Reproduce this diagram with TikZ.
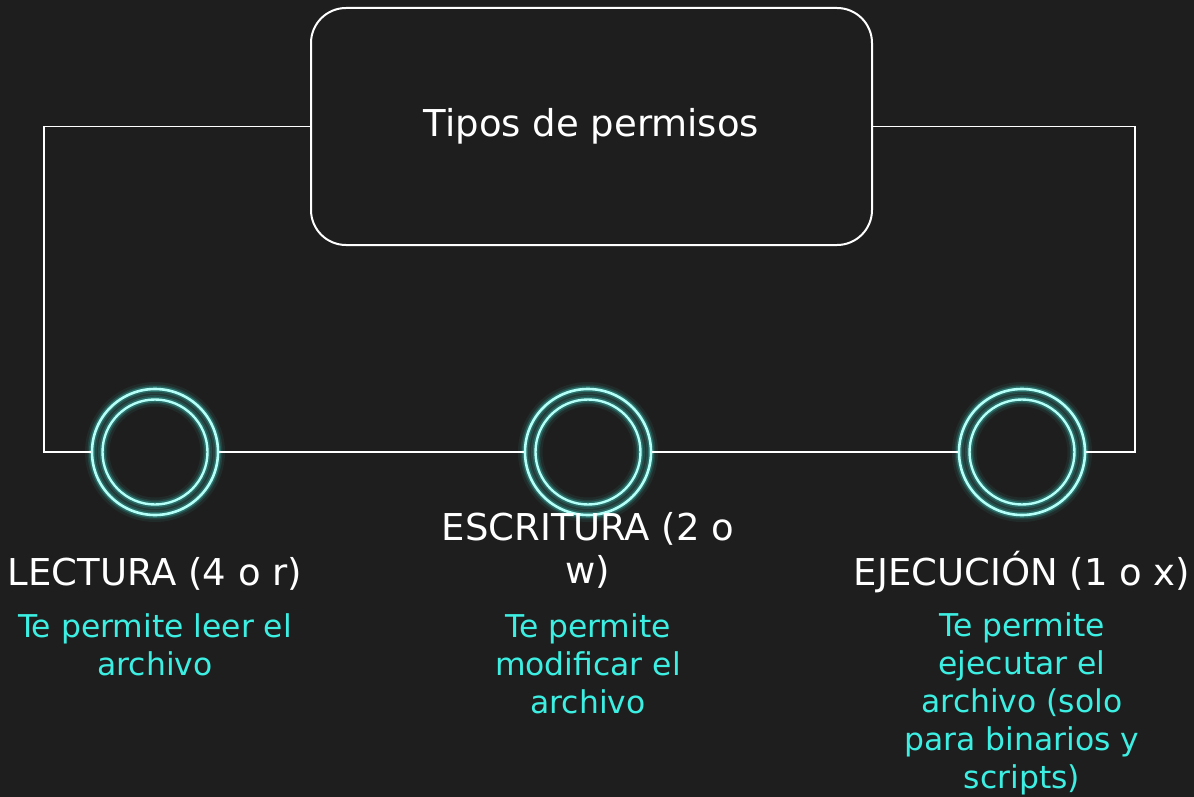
\documentclass[tikz,border=0pt]{standalone}
\usepackage{fontspec}
\setmainfont{DejaVu Sans}
\definecolor{fondo}{HTML}{1E1E1E}
\definecolor{aqua}{HTML}{3CEFE2}
\definecolor{anilloc}{HTML}{B4FFF7}
\definecolor{brilloc}{HTML}{3DD8CC}
\newcommand\aura[1]{%
  \foreach \w/\o in {7pt/0.07,4.5pt/0.14,2.8pt/0.3}{%
    \draw[brilloc,line width=\w,opacity=\o](#1)circle[radius=31.5pt];
    \draw[brilloc,line width=\w,opacity=\o](#1)circle[radius=26.25pt];}}
\tikzset{
  caja/.style={draw=white,line width=1pt,rounded corners=17.5pt,minimum width=280.5pt,
    minimum height=118.5pt,text=white,font={\fontsize{18.5}{21.5}\selectfont}},
  anillo/.style={circle,draw=anilloc,line width=1.3pt,minimum size=63pt,inner sep=0pt},
  linea/.style={draw=white,line width=0.8pt},
  titulo/.style={anchor=base,text=white,align=center,font={\fontsize{18.5}{21.5}\selectfont}},
  detalle/.style={anchor=base,text=aqua,align=center,font={\fontsize{15.7}{18.9}\selectfont}},
}
\begin{document}
\begin{tikzpicture}[x=0.5pt,y=-0.5pt]
\useasboundingbox[fill=fondo](0,0)rectangle(1194,797);
\node[caja](perm)at(591.5,126.5){Tipos de permisos};
% anillos con brillo
\coordinate(c1)at(155,452);
\coordinate(c2)at(588,452);
\coordinate(c3)at(1022,452);
\aura{c1}\aura{c2}\aura{c3}
\node[anillo](lect)at(c1){};
\node[anillo](escr)at(c2){};
\node[anillo](ejec)at(c3){};
\draw[anilloc,line width=1.2pt](c1)circle[radius=26.25pt];
\draw[anilloc,line width=1.2pt](c2)circle[radius=26.25pt];
\draw[anilloc,line width=1.2pt](c3)circle[radius=26.25pt];
% conectores
\draw[linea](perm.west)--++(-266,0)|-(lect.west);
\draw[linea](perm.east)--++(262,0)|-(ejec.east);
\draw[linea](lect.east)--(escr.west);
\draw[linea](escr.east)--(ejec.west);
% textos (base = ultima linea)
\node[titulo](tl)at(155,585){LECTURA (4 o r)};
\node[titulo](te)at(588,583){ESCRITURA (2 o\\w)};
\node[titulo](tx)at(1022,585){EJECUCIÓN (1 o x)};
\node[detalle](dl)at(155,675){Te permite leer el\\archivo};
\node[detalle](de)at(588,713){Te permite\\modificar el\\archivo};
\node[detalle](dx)at(1022,788){Te permite\\ejecutar el\\archivo (solo\\para binarios y\\scripts)};
\end{tikzpicture}
\end{document}
